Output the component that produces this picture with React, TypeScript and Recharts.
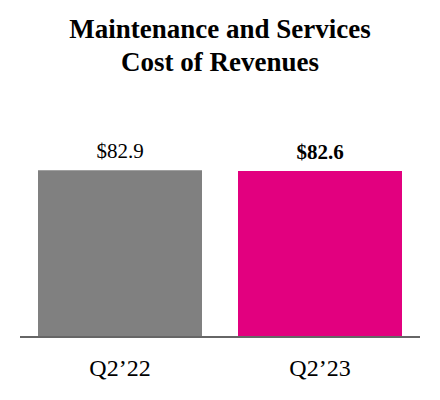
import React from "react";
import { BarChart, Bar, XAxis, YAxis, Cell, LabelList } from "recharts";

const categories = ["Q2\u201922", "Q2\u201923"];
const values = [82.9, 82.6];
const valueLabels = ["$82.9", "$82.6"];
const colors = ["#808080", "#E2007F"];
const boldFlags = [false, true];

const data = categories.map((c, i) => ({ name: c, value: values[i], label: valueLabels[i] }));

const FONT = "'Liberation Serif', 'Times New Roman', serif";

const renderLabel = (props: any) => {
  const { x, y, width, index } = props;
  return (
    <text
      x={x + width / 2}
      y={y - 12}
      textAnchor="middle"
      fontFamily={FONT}
      fontSize={21}
      fontWeight={boldFlags[index] ? "bold" : "normal"}
      fill="#000"
    >
      {valueLabels[index]}
    </text>
  );
};

export default function App() {
  return (
    <div style={{ position: "absolute", left: 0, top: 0, width: 440, height: 400, background: "#fff" }}>
      <div
        style={{
          position: "absolute",
          left: 0,
          top: 13,
          width: 440,
          textAlign: "center",
          fontFamily: FONT,
          fontWeight: "bold",
          fontSize: 27,
          lineHeight: "33px",
          color: "#000",
        }}
      >
        Maintenance and Services
        <br />
        Cost of Revenues
      </div>
      <BarChart
        width={440}
        height={400}
        data={data}
        margin={{ top: 136, right: 20, left: 20, bottom: 13 }}
        barSize={164}
      >
        <XAxis
          dataKey="name"
          axisLine={{ stroke: "#666", strokeWidth: 2 }}
          tickLine={false}
          height={50}
          tickMargin={16}
          tick={{ fontFamily: FONT, fontSize: 24, fill: "#000" }}
        />
        <YAxis hide domain={[0, 100]} />
        <Bar dataKey="value" isAnimationActive={false}>
          {data.map((d, i) => (
            <Cell key={d.name} fill={colors[i]} />
          ))}
          <LabelList dataKey="label" content={renderLabel} />
        </Bar>
      </BarChart>
    </div>
  );
}
